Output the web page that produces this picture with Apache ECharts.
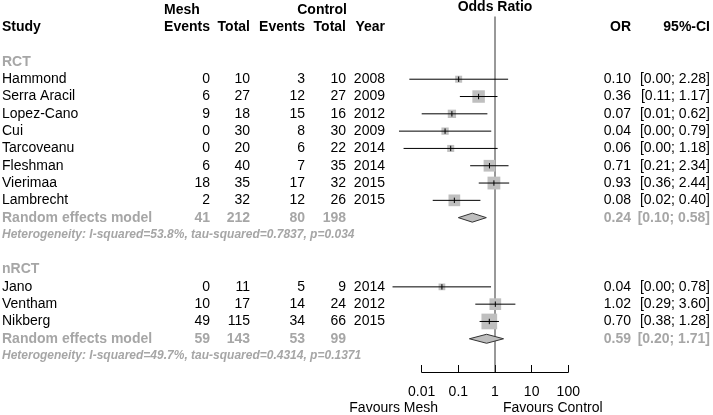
<!DOCTYPE html>
<html>
<head>
<meta charset="utf-8">
<script src="https://cdn.jsdelivr.net/npm/echarts@6/dist/echarts.min.js"></script>
<style>
html,body{margin:0;padding:0;background:#fff;}
#c{width:713px;height:415px;}
</style>
</head>
<body>
<div id="c"></div>
<script>
// ---------- data ----------
const groupLabels = ['RCT', 'nRCT'];

const rctStudies    = ['Hammond', 'Serra Aracil', 'Lopez-Cano', 'Cui', 'Tarcoveanu', 'Fleshman', 'Vierimaa', 'Lambrecht'];
const rctMeshEvents = [0, 6, 9, 0, 0, 6, 18, 2];
const rctMeshTotal  = [10, 27, 18, 30, 20, 40, 35, 32];
const rctCtrlEvents = [3, 12, 15, 8, 6, 7, 17, 12];
const rctCtrlTotal  = [10, 27, 16, 30, 22, 35, 32, 26];
const rctYear       = [2008, 2009, 2012, 2009, 2014, 2014, 2015, 2015];
const rctOR         = [0.102, 0.357, 0.0667, 0.0434, 0.0619, 0.706, 0.934, 0.0778];
const rctLower      = [0.0046, 0.11, 0.01, 0.0024, 0.0032, 0.21, 0.36, 0.02];
const rctUpper      = [2.28, 1.17, 0.62, 0.79, 1.18, 2.34, 2.44, 0.40];
const rctWeight     = [4.9, 15.6, 6.9, 5.3, 4.9, 13.7, 16.4, 13.7];

const nrctStudies    = ['Jano', 'Ventham', 'Nikberg'];
const nrctMeshEvents = [0, 10, 49];
const nrctMeshTotal  = [11, 17, 115];
const nrctCtrlEvents = [5, 14, 34];
const nrctCtrlTotal  = [9, 24, 66];
const nrctYear       = [2014, 2012, 2015];
const nrctOR         = [0.0356, 1.02, 0.699];
const nrctLower      = [0.0016, 0.29, 0.38];
const nrctUpper      = [0.78, 3.60, 1.28];
const nrctWeight     = [4.5, 13.7, 24.6];

const pooledMeshEvents = [41, 59];
const pooledMeshTotal  = [212, 143];
const pooledCtrlEvents = [80, 53];
const pooledCtrlTotal  = [198, 99];
const pooledOR         = [0.24, 0.59];
const pooledLower      = [0.10, 0.20];
const pooledUpper      = [0.58, 1.71];
const hetI2            = ['53.8%', '49.7%'];
const hetTau2          = ['0.7837', '0.4314'];
const hetP             = ['0.034', '0.1371'];

const tickValues = [-2, -1, 0, 1, 2];
const tickLabels = ['0.01', '0.1', '1', '10', '100'];

// ---------- styles ----------
const FONT = '"Liberation Sans", Arial, Helvetica, sans-serif';
const BLACK = '#000000';
const GREY = '#a6a6a6';
const SQ = '#bfbfbf';
const FS = 14;

// column anchor x positions (px)
const COL = { study: 2, meshEv: 210, meshTot: 250, ctrlEv: 305, ctrlTot: 346, year: 385, or: 631, ci: 710 };

const groups = [
  { label: groupLabels[0], studies: rctStudies, me: rctMeshEvents, mt: rctMeshTotal, ce: rctCtrlEvents, ct: rctCtrlTotal, yr: rctYear, or: rctOR, lo: rctLower, hi: rctUpper, w: rctWeight },
  { label: groupLabels[1], studies: nrctStudies, me: nrctMeshEvents, mt: nrctMeshTotal, ce: nrctCtrlEvents, ct: nrctCtrlTotal, yr: nrctYear, or: nrctOR, lo: nrctLower, hi: nrctUpper, w: nrctWeight }
];

const f2 = v => v.toFixed(2);
const ci = (l, h) => '[' + f2(l) + '; ' + f2(h) + ']';

const textRows = [];
const studyMarks = [];
const diamonds = [];

function T(x, text, align, opts) {
  return Object.assign({ x: x, text: String(text), align: align, color: BLACK, weight: 'normal', style: 'normal', size: FS }, opts || {});
}

textRows.push({ row: 0, items: [
  T(164, 'Mesh', 'left', { weight: 'bold' }),
  T(347, 'Control', 'right', { weight: 'bold' })
]});
textRows.push({ row: 1, items: [
  T(COL.study, 'Study', 'left', { weight: 'bold' }),
  T(COL.meshEv, 'Events', 'right', { weight: 'bold' }),
  T(COL.meshTot, 'Total', 'right', { weight: 'bold' }),
  T(COL.ctrlEv, 'Events', 'right', { weight: 'bold' }),
  T(COL.ctrlTot, 'Total', 'right', { weight: 'bold' }),
  T(COL.year, 'Year', 'right', { weight: 'bold' }),
  T(COL.or, 'OR', 'right', { weight: 'bold' }),
  T(COL.ci, '95%-CI', 'right', { weight: 'bold' })
]});

let row = 3;
groups.forEach((g, gi) => {
  textRows.push({ row: row, items: [T(COL.study, g.label, 'left', { color: GREY, weight: 'bold' })] });
  row++;
  g.studies.forEach((s, i) => {
    textRows.push({ row: row, items: [
      T(COL.study, s, 'left'),
      T(COL.meshEv, g.me[i], 'right'),
      T(COL.meshTot, g.mt[i], 'right'),
      T(COL.ctrlEv, g.ce[i], 'right'),
      T(COL.ctrlTot, g.ct[i], 'right'),
      T(COL.year, g.yr[i], 'right'),
      T(COL.or, f2(g.or[i]), 'right'),
      T(COL.ci, ci(g.lo[i], g.hi[i]), 'right')
    ]});
    studyMarks.push([Math.log10(g.or[i]), row, Math.log10(g.lo[i]), Math.log10(g.hi[i]), Math.sqrt(g.w[i] * 10)]);
    row++;
  });
  const po = { color: GREY, weight: 'bold' };
  textRows.push({ row: row, items: [
    T(COL.study, 'Random effects model', 'left', po),
    T(COL.meshEv, pooledMeshEvents[gi], 'right', po),
    T(COL.meshTot, pooledMeshTotal[gi], 'right', po),
    T(COL.ctrlEv, pooledCtrlEvents[gi], 'right', po),
    T(COL.ctrlTot, pooledCtrlTotal[gi], 'right', po),
    T(COL.or, f2(pooledOR[gi]), 'right', po),
    T(COL.ci, ci(pooledLower[gi], pooledUpper[gi]), 'right', po)
  ]});
  diamonds.push([Math.log10(pooledOR[gi]), row, Math.log10(pooledLower[gi]), Math.log10(pooledUpper[gi])]);
  row++;
  textRows.push({ row: row, items: [
    T(COL.study, 'Heterogeneity: I-squared=' + hetI2[gi] + ', tau-squared=' + hetTau2[gi] + ', p=' + hetP[gi], 'left',
      { color: GREY, weight: 'bold', style: 'italic', size: 12 })
  ]});
  row += 2;
});

const chart = echarts.init(document.getElementById('c'), null, { renderer: 'canvas' });

const GRID_TOP = 10, GRID_H = 362;

chart.setOption({
  animation: false,
  backgroundColor: '#ffffff',
  grid: { left: 421.7, width: 146.6, top: GRID_TOP, height: GRID_H, containLabel: false, outerBoundsMode: 'none' },
  xAxis: {
    type: 'value', min: -2, max: 2, interval: 1, position: 'bottom',
    axisLine: { show: true, onZero: false, lineStyle: { color: BLACK, width: 1 } },
    axisTick: { show: true, inside: true, length: 7, lineStyle: { color: BLACK, width: 1 } },
    splitLine: { show: false },
    axisLabel: {
      margin: 13, color: BLACK, fontSize: FS, fontFamily: FONT,
      formatter: v => { const k = tickValues.indexOf(Math.round(v)); return k >= 0 ? tickLabels[k] : ''; }
    }
  },
  yAxis: { type: 'value', inverse: true, min: 0, max: 20.92, show: false },
  graphic: [
    { type: 'text', x: 495, y: 7, style: { text: 'Odds Ratio', font: 'bold 14px ' + FONT, fill: BLACK, align: 'center', verticalAlign: 'middle' } },
    { type: 'text', x: 438, y: 408, style: { text: 'Favours Mesh', font: '14px ' + FONT, fill: BLACK, align: 'right', verticalAlign: 'middle' } },
    { type: 'text', x: 503, y: 408, style: { text: 'Favours Control', font: '14px ' + FONT, fill: BLACK, align: 'left', verticalAlign: 'middle' } }
  ],
  series: [
    {
      type: 'custom', clip: false, silent: true,
      data: [[0]],
      renderItem: (params, api) => {
        const p = api.coord([api.value(0), 0]);
        return { type: 'line', shape: { x1: p[0], y1: 16.5, x2: p[0], y2: GRID_TOP + GRID_H }, style: { stroke: '#333333', lineWidth: 1 } };
      }
    },
    {
      type: 'custom', clip: false, silent: true,
      data: studyMarks,
      renderItem: (params, api) => {
        const c = api.coord([api.value(0), api.value(1)]);
        const lo = api.coord([api.value(2), api.value(1)]);
        const hi = api.coord([api.value(3), api.value(1)]);
        const s = api.value(4);
        return { type: 'group', children: [
          { type: 'rect', shape: { x: c[0] - s / 2, y: c[1] - s / 2, width: s, height: s }, style: { fill: SQ } },
          { type: 'line', shape: { x1: lo[0], y1: c[1], x2: hi[0], y2: c[1] }, style: { stroke: BLACK, lineWidth: 1 } },
          { type: 'line', shape: { x1: c[0], y1: c[1] - 2.7, x2: c[0], y2: c[1] + 2.7 }, style: { stroke: BLACK, lineWidth: 1 } }
        ]};
      }
    },
    {
      type: 'custom', clip: false, silent: true,
      data: diamonds,
      renderItem: (params, api) => {
        const c = api.coord([api.value(0), api.value(1)]);
        const lo = api.coord([api.value(2), api.value(1)]);
        const hi = api.coord([api.value(3), api.value(1)]);
        const h = 4.5;
        return { type: 'polygon', shape: { points: [[lo[0], c[1]], [c[0], c[1] - h], [hi[0], c[1]], [c[0], c[1] + h]] },
          style: { fill: '#bebebe', stroke: '#333333', lineWidth: 1 } };
      }
    },
    {
      type: 'custom', clip: false, silent: true,
      data: textRows.map((r, i) => [i, r.row]),
      renderItem: (params, api) => {
        const r = textRows[api.value(0)];
        const y = api.coord([0, api.value(1)])[1];
        return { type: 'group', children: r.items.map(it => ({
          type: 'text',
          style: { x: it.x, y: y, text: it.text, fill: it.color,
            font: it.style + ' ' + it.weight + ' ' + it.size + 'px ' + FONT,
            align: it.align, verticalAlign: 'middle' }
        }))};
      }
    }
  ]
});
</script>
</body>
</html>
